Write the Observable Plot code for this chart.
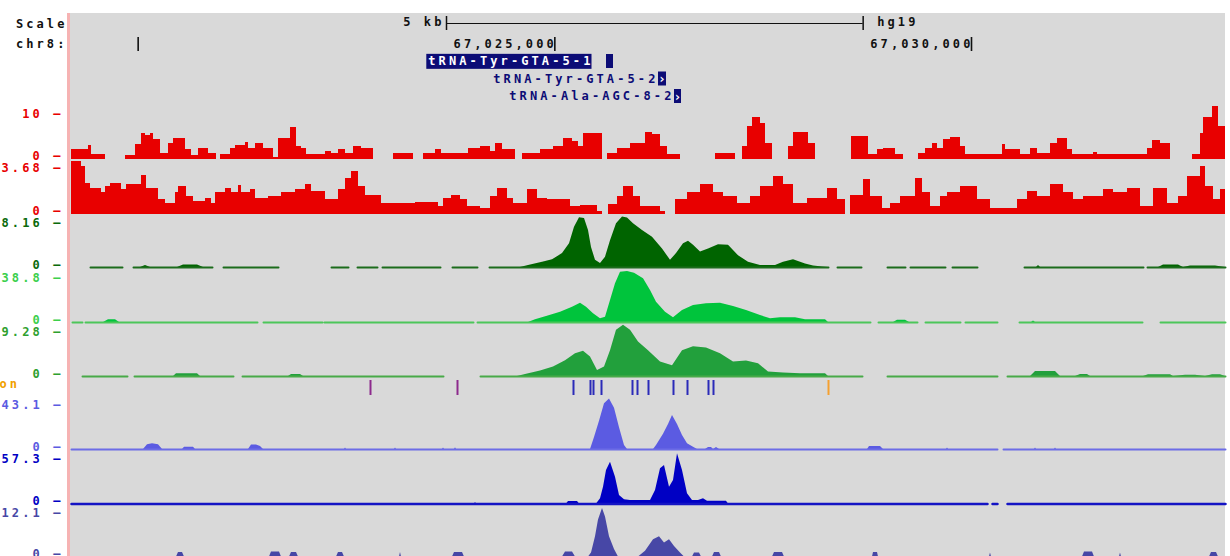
<!DOCTYPE html>
<html><head><meta charset="utf-8">
<script src="https://cdn.jsdelivr.net/npm/d3@7"></script>
<script src="https://cdn.jsdelivr.net/npm/@observablehq/plot@0.6"></script>
<style>
html,body{margin:0;padding:0;background:#fff;}
#chart{position:relative;width:1230px;height:556px;overflow:hidden;background:#fff;}
#bg{position:absolute;left:70px;top:13px;width:1155px;height:543px;background:#d9d9d9;}
#edge{position:absolute;left:67px;top:13px;width:3px;height:543px;background:#f6b3b3;}
#chart svg{position:absolute;left:0;top:0;}
</style></head><body>
<div id="chart"><div id="bg"></div><div id="edge"></div></div>
<script>
// ---------- window (chr8, hg19) ----------
const chrom = "chr8";
const assembly = "hg19";
const winStart = 67019200;
const winEnd = 67033048;

// ---------- header data ----------
const scaleBar = [67023700, 67028700];
const scaleLabel = "5 kb";
const rulerTicks = [67020000, 67025000, 67030000];
const rulerLabels = ["", "67,025,000", "67,030,000"];
const geneNames = ["tRNA-Tyr-GTA-5-1", "tRNA-Tyr-GTA-5-2", "tRNA-Ala-AGC-8-2"];
const geneStarts = [67025620, 67026244, 67026436];
const geneEnds = [67025704, 67026340, 67026520];
const geneStrands = ["", "+", "+"];

// ---------- signal tracks: [offset from winStart (bp), value] ----------
// red bar tracks: value holds until next breakpoint, null = no data
const t1 = [[0,2.3],[204,3.1],[240,1.0],[408,null],[648,0.8],[768,3.4],[840,6.0],[888,5.5],[948,6.1],[984,4.6],[1068,1.4],[1164,3.8],[1224,5.0],[1368,2.2],[1440,0.8],[1524,2.6],[1644,1.4],[1740,null],[1788,1.0],[1908,2.6],[1968,3.1],[2088,3.9],[2124,2.6],[2208,3.8],[2304,2.6],[2424,0.4],[2484,5.0],[2628,7.5],[2700,3.0],[2760,2.6],[2820,1.0],[3048,1.8],[3120,1.2],[3204,2.2],[3288,1.2],[3384,3.0],[3480,2.6],[3624,null],[3864,1.2],[4104,null],[4224,1.2],[4368,2.3],[4440,1.4],[4608,1.2],[4764,2.6],[4908,3.0],[5028,1.8],[5088,3.8],[5172,2.2],[5328,null],[5412,1.2],[5628,2.2],[5784,3.0],[5904,5.0],[6012,4.1],[6084,3.0],[6144,6.1],[6372,null],[6432,1.2],[6552,2.6],[6708,3.8],[6888,6.3],[6972,5.8],[7068,3.0],[7152,1.0],[7308,null],[7728,1.2],[7968,null],[8052,3.0],[8112,7.7],[8172,10.0],[8268,8.5],[8328,3.8],[8412,null],[8604,3.0],[8664,6.3],[8844,3.8],[8928,null],[9360,5.4],[9564,1.0],[9672,2.3],[9744,2.6],[9888,1.0],[9984,null],[10164,1.4],[10248,2.6],[10332,3.8],[10392,2.6],[10464,4.7],[10548,5.1],[10668,3.0],[10728,1.0],[11172,3.4],[11208,2.2],[11388,1.0],[11508,2.6],[11592,1.4],[11748,3.8],[11832,4.8],[11952,2.2],[12012,1.0],[12264,1.5],[12312,1.0],[12912,2.6],[12972,4.4],[13068,3.6],[13188,null],[13452,1.0],[13548,6.1],[13584,10.0],[13692,12.5],[13764,7.7],[13848,null]];

const t2 = [[0,4.45],[120,4.0],[168,2.6],[228,2.2],[360,1.8],[408,2.3],[468,2.6],[600,2.05],[660,2.5],[840,3.3],[900,2.2],[1044,1.2],[1128,0.9],[1248,1.8],[1284,2.3],[1380,1.5],[1464,1.05],[1608,1.35],[1680,0.9],[1728,1.8],[1848,2.2],[1920,1.8],[2004,2.4],[2040,1.8],[2148,2.05],[2208,1.35],[2364,1.5],[2520,1.8],[2688,2.05],[2808,2.5],[2880,1.9],[3048,1.2],[3204,2.05],[3288,3.0],[3360,3.6],[3444,2.3],[3528,1.6],[3720,0.9],[3804,0.85],[4128,1.0],[4404,0.65],[4464,1.35],[4560,1.6],[4668,1.2],[4752,0.65],[4908,0.5],[5028,1.5],[5112,2.2],[5232,1.35],[5304,0.9],[5472,2.05],[5592,1.35],[5712,1.2],[5988,0.65],[6108,0.7],[6312,0.2],[6372,null],[6444,0.8],[6552,1.5],[6624,2.3],[6744,1.5],[6828,0.65],[7068,0.2],[7128,null],[7248,1.2],[7392,1.8],[7548,2.5],[7704,1.8],[7824,1.5],[7992,0.9],[8148,1.5],[8268,2.3],[8424,3.2],[8544,2.5],[8664,0.9],[8832,1.35],[9072,2.2],[9192,1.2],[9288,null],[9348,1.6],[9504,2.9],[9588,1.5],[9732,0.5],[9828,0.9],[9948,1.5],[10128,3.0],[10212,1.8],[10308,0.65],[10428,1.5],[10512,1.8],[10668,2.3],[10872,1.2],[11028,0.45],[11352,1.2],[11472,1.9],[11592,1.5],[11748,2.5],[11904,1.8],[12024,1.2],[12144,1.5],[12384,2.05],[12504,1.8],[12672,2.2],[12828,0.65],[12984,2.2],[13152,0.9],[13284,1.5],[13392,3.2],[13548,4.0],[13608,2.3],[13704,1.2],[13788,2.05],[13848,null]];

// smooth coverage tracks: points, null = gap
const t3 = [[228,0],[612,0],[636,null],[744,0],[828,0],[888,0.4],[948,0],[1272,0],[1344,0.5],[1512,0.5],[1584,0],[1692,0],[1728,null],[1824,0],[2484,0],[2748,null],[3120,0],[3324,0],[3348,null],[3432,0],[3672,0],[3696,null],[3732,0],[4428,0],[4488,null],[4572,0],[4872,0],[4908,null],[5016,0],[5388,0],[5484,0.4],[5652,1.0],[5772,1.5],[5892,2.7],[5976,4.6],[6036,7.8],[6096,9.65],[6156,9.5],[6204,7.2],[6240,3.9],[6288,1.4],[6348,0.8],[6408,2.0],[6468,5.2],[6540,8.5],[6612,9.8],[6672,9.6],[6744,8.5],[6852,7.2],[6972,5.9],[7092,3.6],[7188,1.4],[7260,2.7],[7344,4.6],[7404,5.1],[7464,4.3],[7548,3.0],[7644,3.6],[7764,4.4],[7884,4.3],[8004,2.3],[8124,1.0],[8268,0.4],[8448,0.4],[8544,1.0],[8664,1.5],[8808,0.7],[8904,0.3],[9012,0.1],[9084,0],[9132,null],[9192,0],[9480,0],[9588,null],[9792,0],[10008,0],[10032,null],[10068,0],[10488,0],[10524,null],[10572,0],[10872,0],[11148,null],[11436,0],[11580,0],[11604,0.4],[11628,0],[12864,0],[12888,null],[12912,0],[13044,0],[13104,0.5],[13284,0.5],[13344,0],[13428,0.3],[13728,0.3],[13848,0]];

const t4 = [[12,0],[132,0],[144,null],[168,0],[384,0],[444,2.5],[528,2.5],[576,0],[2232,0],[2268,null],[2304,0],[3012,0],[3024,null],[3036,0],[4824,0],[4848,null],[4872,0],[5484,0],[5568,2.5],[5700,5.5],[5868,9.5],[6012,14.1],[6108,17.8],[6180,14.1],[6264,8.0],[6348,3.4],[6408,4.9],[6468,20.3],[6528,35.8],[6588,46.5],[6672,47],[6756,45.6],[6864,40.4],[6948,29.6],[7020,18.8],[7128,9.5],[7224,4.3],[7332,11.1],[7464,15.7],[7620,17.3],[7788,17.8],[7944,14.8],[8100,11.1],[8268,6.5],[8388,3.4],[8508,4.3],[8688,4.3],[8808,2.5],[9048,2.5],[9084,0],[9588,0],[9612,null],[9684,0],[9864,0],[9912,2],[10008,2],[10056,0],[10152,0],[10188,null],[10248,0],[10668,0],[10692,null],[10728,0],[11112,0],[11208,null],[11376,0],[11520,0],[11544,1.5],[11568,0],[12852,0],[12948,null],[13068,0],[13848,0]];

const t5 = [[132,0],[672,0],[708,null],[756,0],[1224,0],[1260,0.6],[1512,0.6],[1548,0],[1944,0],[1992,null],[2052,0],[2604,0],[2640,0.45],[2748,0.45],[2784,0],[4464,0],[4548,null],[4908,0],[5352,0],[5448,0.45],[5628,1.2],[5784,2.1],[5928,3.5],[6048,5.0],[6144,5.6],[6228,4.3],[6312,1.3],[6396,2.1],[6468,5.7],[6540,10.2],[6624,11.3],[6708,10.2],[6804,7.6],[6924,5.7],[7068,3.2],[7212,2.4],[7332,5.7],[7464,6.6],[7620,6.3],[7788,5.0],[7944,3.2],[8100,3.4],[8244,2.8],[8364,1.0],[8544,0.75],[8748,0.6],[9048,0.6],[9084,0],[9492,0],[9588,null],[9792,0],[11112,0],[11172,null],[11232,0],[11508,0],[11568,1.1],[11808,1.1],[11868,0],[12048,0],[12108,0.45],[12192,0.45],[12228,0],[12864,0],[12924,0.4],[13188,0.4],[13224,0],[13368,0.3],[13488,0.3],[13608,0],[13692,0.4],[13788,0.4],[13848,0]];

const t6 = [[0,0],[864,0],[912,5],[972,5.8],[1044,5],[1092,0],[1332,0],[1356,2.3],[1464,2.3],[1488,0],[2124,0],[2160,4.7],[2220,4.7],[2268,3],[2304,0],[3276,0],[3288,1.5],[3300,0],[3876,0],[3888,1.5],[3900,0],[4452,0],[4464,1.5],[4476,0],[4596,0],[4608,1.8],[4620,0],[6228,0],[6276,12.3],[6336,29],[6396,47],[6456,51.7],[6516,42.3],[6576,22.3],[6636,4],[6672,0],[6984,0],[7020,4],[7104,15.7],[7164,25.7],[7212,34.9],[7272,25.7],[7332,14.3],[7392,5.8],[7464,2.3],[7512,0],[7608,0],[7644,2],[7680,2],[7704,0],[7740,2],[7776,0],[9552,0],[9576,3],[9708,3],[9744,0],[10500,0],[10512,1.5],[10524,0],[11112,0],[11136,null],[11184,0],[11556,0],[11568,1.5],[11580,0],[11796,0],[11808,1.5],[11820,0],[13848,0]];

const t7 = [[0,0],[4836,0],[4848,2],[4860,0],[5940,0],[5964,3.4],[6072,3.4],[6096,0],[6300,0],[6348,7],[6384,23],[6420,45.7],[6468,57],[6528,36.6],[6576,11.6],[6636,5.7],[6708,4.8],[6948,4.8],[7008,18.4],[7068,48],[7116,52.5],[7176,23],[7224,32],[7272,68.5],[7332,45.7],[7392,13.9],[7452,4.8],[7524,4.8],[7584,7],[7632,3.8],[7860,3.8],[7884,0],[10992,0],[11016,null],[11052,0],[11112,0],[11148,null],[11232,0],[13848,0]];

const t8 = [[0,0],[1260,0],[1284,1.3],[1332,1.3],[1356,0],[2376,0],[2400,1.5],[2496,1.5],[2520,0],[2616,0],[2640,1.3],[2700,1.3],[2724,0],[3180,0],[3204,1.3],[3252,1.3],[3276,0],[3936,0],[3948,1.3],[3960,0],[4572,0],[4596,1.3],[4692,1.3],[4716,0],[5892,0],[5928,1.5],[6012,1.5],[6048,0],[6204,0],[6240,1.2],[6288,6.0],[6324,10.9],[6372,14.3],[6408,11.8],[6456,6.0],[6516,2.2],[6564,0],[6804,0],[6888,1.7],[6984,5.1],[7056,6.0],[7116,4.1],[7176,5.1],[7236,3.1],[7308,1.2],[7356,0],[7452,0],[7476,1.2],[7536,1.2],[7560,0],[7692,0],[7716,1.3],[7776,1.3],[7800,0],[8412,0],[8436,1.3],[8532,1.3],[8556,0],[9612,0],[9624,1.3],[9672,1.3],[9684,0],[11016,0],[11028,1.2],[11040,0],[12132,0],[12156,1.5],[12252,1.5],[12276,0],[12576,0],[12588,1.2],[12600,0],[13656,0],[13680,1.3],[13740,1.3],[13764,0],[13848,0]];

const trackMax = [10, 3.68, 8.16, 38.8, 9.28, 43.1, 57.3, 12.1];
const trackMaxLabels = ["10", "3.68", "8.16", "38.8", "9.28", "43.1", "57.3", "12.1"];

// annotation ticks (offsets from winStart)
const annotPurple = [3588, 4632];
const annotBlue = [6024, 6228, 6264, 6360, 6732, 6792, 6924, 7224, 7392, 7644, 7704];
const annotOrange = [9084];
const annotLabel = "on";

// ---------- layout / style ----------
const FONT = "DejaVu Sans Mono";
const FS = 12;
const FW = "bold";
const W = 1230, H = 556;
const xOpt = {domain: [winStart, winEnd], range: [71, 1225], axis: null};
const layout = [
  {data: t1, kind: "bars", zero: 158.5, top: 116.5, fill: "#e80000", label: "#e80000"},
  {data: t2, kind: "bars", zero: 213.5, top: 170.1, fill: "#e80000", label: "#e80000"},
  {data: t3, kind: "area", zero: 267, top: 225, fill: "#006400", line: "#1c6c1c", lw: 2, label: "#0b6a0b"},
  {data: t4, kind: "area", zero: 322, top: 280, fill: "#00c43c", line: "#4cc65a", lw: 2, label: "#3ccf4c"},
  {data: t5, kind: "area", zero: 376, top: 334, fill: "#22a03c", line: "#48aa48", lw: 2, label: "#2ea02e"},
  {data: t6, kind: "area", zero: 449, top: 407, fill: "#5b5be2", line: "#6c6ce6", lw: 2, label: "#5b5be2"},
  {data: t7, kind: "area", zero: 503.5, top: 461.5, fill: "#0000c4", line: "#1414c4", lw: 2.5, label: "#0000c4"},
  {data: t8, kind: "area", zero: 556.5, top: 515.5, fill: "#4747a6", line: "#4747a6", lw: 2, label: "#4747a6"}
];

function finish(svg) {
  svg.style.background = "transparent";
  svg.style.position = "absolute";
  svg.style.left = "0px";
  svg.style.top = "0px";
  svg.style.maxWidth = "none";
  svg.style.overflow = "visible";
  svg.style.letterSpacing = "3.1px";
  return svg;
}
const base = {width: W, height: H, marginLeft: 71, marginRight: 5, marginTop: 0, marginBottom: 0};

function barsTable(pairs) {
  const out = [];
  for (let i = 0; i < pairs.length - 1; i++) {
    const [s, v] = pairs[i];
    if (v == null) continue;
    out.push({x1: winStart + s, x2: winStart + pairs[i + 1][0], v});
  }
  return out;
}
function pointsTable(pairs) {
  return pairs.map(([s, v]) => ({pos: winStart + s, v}));
}

function trackPlot(cfg, i) {
  const marks = [];
  if (cfg.kind === "bars") {
    marks.push(Plot.rect(barsTable(cfg.data), {x1: "x1", x2: "x2", y1: () => 0, y2: "v", fill: cfg.fill, shapeRendering: "crispEdges"}));
  } else {
    const t = pointsTable(cfg.data);
    marks.push(Plot.area(t, {x1: "pos", y1: () => 0, y2: "v", fill: cfg.fill, curve: "linear"}));
    marks.push(Plot.line(t, {x: "pos", y: d => d.v == null ? NaN : 0, stroke: cfg.line, strokeWidth: cfg.lw}));
  }
  marks.push(Plot.text([0, trackMax[i]], {
    y: d => d, text: d => (d === 0 ? "0" : trackMaxLabels[i]) + " \u2013",
    frameAnchor: "left", textAnchor: "end", dx: -8, dy: -2.5,
    fill: cfg.label, fontFamily: FONT, fontSize: FS, fontWeight: FW
  }));
  return finish(Plot.plot({...base, x: xOpt, y: {domain: [0, trackMax[i]], range: [cfg.zero, cfg.top], axis: null}, marks}));
}

// header
const rowY = {scale: 23, pos: 44, g: [61, 78.5, 96]};
const genes = geneNames.map((name, i) => ({name, start: geneStarts[i], end: geneEnds[i], strand: geneStrands[i], row: rowY.g[i], i}));
const navy = "#0c0c76";
const header = finish(Plot.plot({
  ...base, x: xOpt, y: {type: "identity", axis: null},
  marks: [
    Plot.text(["Scale", chrom + ":"], {y: (d, i) => i === 0 ? rowY.scale + 1 : rowY.pos, text: d => d, frameAnchor: "left", textAnchor: "end", dx: -4, fill: "#111", fontFamily: FONT, fontSize: FS, fontWeight: FW}),
    Plot.ruleY([scaleBar], {x1: d => d[0], x2: d => d[1], y: () => rowY.scale, stroke: "#111", strokeWidth: 1.2}),
    Plot.ruleX(scaleBar, {x: d => d, y1: () => rowY.scale - 7, y2: () => rowY.scale + 7, stroke: "#111", strokeWidth: 1.5}),
    Plot.text([scaleBar[0]], {x: d => d, y: () => rowY.scale - 1, text: () => scaleLabel, textAnchor: "end", dx: -2, fill: "#111", fontFamily: FONT, fontSize: FS, fontWeight: FW}),
    Plot.text([scaleBar[1]], {x: d => d, y: () => rowY.scale - 1, text: () => assembly, textAnchor: "start", dx: 14, fill: "#111", fontFamily: FONT, fontSize: FS, fontWeight: FW}),
    Plot.ruleX(rulerTicks, {x: d => d, y1: () => rowY.pos - 7, y2: () => rowY.pos + 7, stroke: "#111", strokeWidth: 1.6}),
    Plot.text(rulerTicks, {x: d => d, y: () => rowY.pos, text: (d, i) => rulerLabels[i], textAnchor: "end", dx: 2, fill: "#111", fontFamily: FONT, fontSize: FS, fontWeight: FW}),
    Plot.rect(genes, {x1: "start", x2: "end", y1: d => d.row - 7, y2: d => d.row + 7, fill: navy}),
    Plot.text(genes.filter(g => g.strand === "+"), {x: d => (d.start + d.end) / 2, y: "row", text: () => "\u203a", fill: "#fff", fontFamily: FONT, fontSize: 13, fontWeight: "bold", dx: 1}),
    Plot.text(genes.filter(g => g.i > 0), {x: "start", y: "row", text: "name", textAnchor: "end", dx: 0, fill: navy, fontFamily: FONT, fontSize: FS, fontWeight: FW}),
    Plot.text(genes.filter(g => g.i === 0), {x: "start", y: "row", text: "name", textAnchor: "end", dx: -13, fill: "#fff", fontFamily: FONT, fontSize: FS, fontWeight: FW})
  ]
}));

const annotColors = {purple: "#8d2a8d", blue: "#2b2bb8", orange: "#f5a030"};
const annot = [
  ...annotPurple.map(o => ({pos: winStart + o, c: annotColors.purple})),
  ...annotBlue.map(o => ({pos: winStart + o, c: annotColors.blue})),
  ...annotOrange.map(o => ({pos: winStart + o, c: annotColors.orange}))
];
const annotPlot = finish(Plot.plot({
  ...base, x: xOpt, y: {domain: [0, 1], range: [395, 380], axis: null},
  marks: [
    Plot.ruleX(annot, {x: "pos", y1: () => 0, y2: () => 1, stroke: "c", strokeWidth: 2}),
    Plot.text([annotLabel], {y: () => 0.73, text: d => d, frameAnchor: "left", textAnchor: "start", dx: -72, fill: "#f0a000", fontFamily: FONT, fontSize: FS, fontWeight: FW})
  ]
}));

const chart = document.getElementById("chart");
chart.appendChild(header);
layout.forEach((cfg, i) => chart.appendChild(trackPlot(cfg, i)));
chart.appendChild(annotPlot);

// highlight box behind the selected gene label (local coordinates of the text)
const hl = [...header.querySelectorAll("text")].find(t => t.textContent === geneNames[0]);
if (hl) {
  const b = hl.getBBox();
  const r = document.createElementNS("http://www.w3.org/2000/svg", "rect");
  r.setAttribute("x", b.x - 2);
  r.setAttribute("y", b.y + b.height / 2 - 7.5);
  r.setAttribute("width", b.width);
  r.setAttribute("height", 15);
  r.setAttribute("fill", navy);
  const tr = hl.getAttribute("transform");
  if (tr) r.setAttribute("transform", tr);
  hl.parentNode.insertBefore(r, hl);
}
</script>
</body></html>
